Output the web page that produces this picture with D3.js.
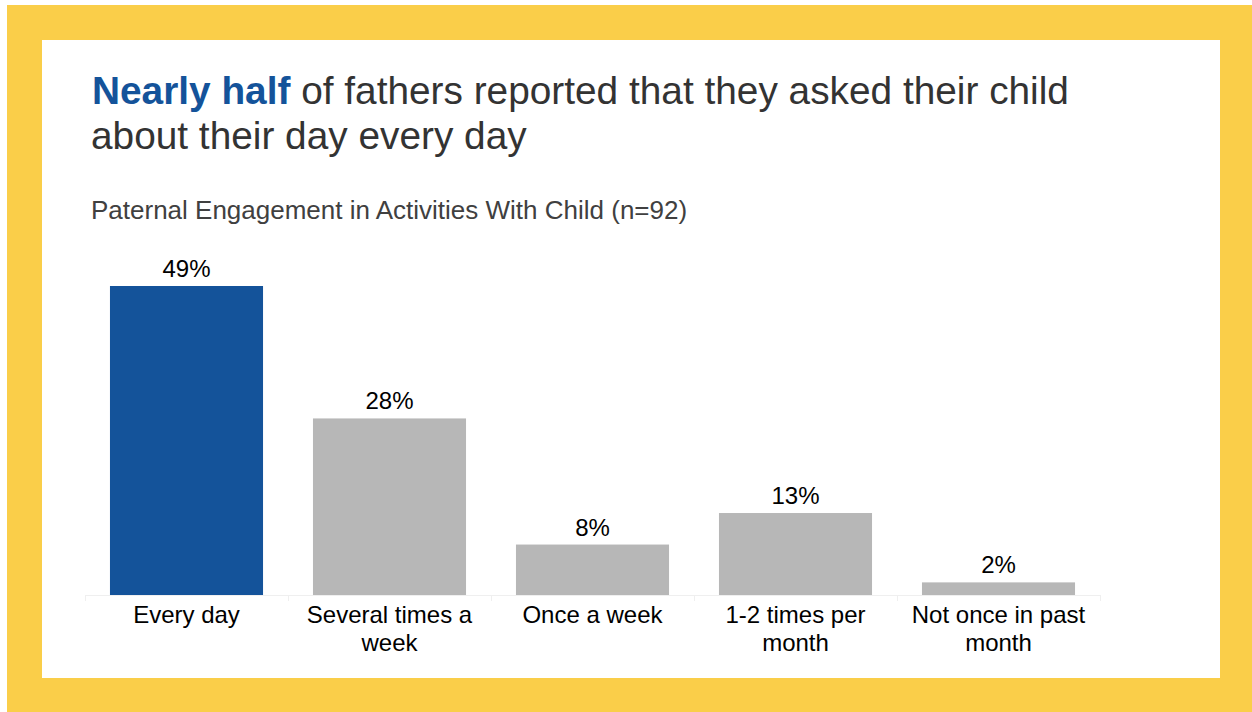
<!DOCTYPE html>
<html>
<head>
<meta charset="utf-8">
<script src="https://cdn.jsdelivr.net/npm/d3@7"></script>
<style>
  html, body { margin: 0; padding: 0; background: #ffffff; }
  svg { display: block; }
  text { font-family: "Liberation Sans", Arial, sans-serif; }
</style>
</head>
<body>
<svg id="chart" width="1252" height="712"></svg>
<script>
// Survey data: how often fathers asked their child about their day
const categories = ["Every day", "Several times a week", "Once a week", "1-2 times per month", "Not once in past month"];
const categoryLines = [["Every day"], ["Several times a", "week"], ["Once a week"], ["1-2 times per", "month"], ["Not once in past", "month"]];
const values = [49, 28, 8, 13, 2];
const valueLabels = ["49%", "28%", "8%", "13%", "2%"];
const highlight = ["Every day"];

const svg = d3.select("#chart");
const W = 1252, H = 712;

// Frame: yellow border around a white panel
svg.append("rect").attr("x", 7).attr("y", 5).attr("width", W - 7).attr("height", H - 5).attr("fill", "#FACE49");
svg.append("rect").attr("x", 42).attr("y", 40).attr("width", 1220 - 42).attr("height", 678 - 40).attr("fill", "#ffffff");

// Headline with highlighted lead-in
const title = svg.append("text").attr("x", 92).attr("y", 104).attr("font-size", 38.8).attr("fill", "#333333");
title.append("tspan").attr("font-weight", "bold").attr("fill", "#14539A").text("Nearly half");
title.append("tspan").text(" of fathers reported that they asked their child");
svg.append("text").attr("x", 91).attr("y", 149).attr("font-size", 38.8).attr("fill", "#333333")
  .text("about their day every day");

svg.append("text").attr("x", 91).attr("y", 219).attr("font-size", 26).attr("fill", "#404040")
  .text("Paternal Engagement in Activities With Child (n=92)");

// Scales
const baseY = 595;
const x = d3.scaleBand().domain(categories).range([85, 1100]).paddingInner(0.246).paddingOuter(0.123);
const y = d3.scaleLinear().domain([0, 49]).range([baseY, 286]);

const g = svg.append("g");

// Faint baseline with ticks at category boundaries
g.append("line").attr("x1", 85).attr("x2", 1100).attr("y1", baseY + 0.5).attr("y2", baseY + 0.5)
  .attr("stroke", "#efefef").attr("stroke-width", 1);
const step = x.step();
const bounds = d3.range(categories.length + 1).map(i => x.range()[0] + i * step);
g.selectAll("line.tick").data(bounds).join("line").attr("class", "tick")
  .attr("x1", d => Math.round(d) + 0.5).attr("x2", d => Math.round(d) + 0.5)
  .attr("y1", baseY).attr("y2", baseY + 6)
  .attr("stroke", "#efefef").attr("stroke-width", 1);

// Bars
g.selectAll("rect.bar").data(categories).join("rect").attr("class", "bar")
  .attr("x", d => x(d))
  .attr("width", x.bandwidth())
  .attr("y", (d, i) => y(values[i]))
  .attr("height", (d, i) => baseY - y(values[i]))
  .attr("fill", d => highlight.includes(d) ? "#14539A" : "#B7B7B7");

// Value labels
g.selectAll("text.val").data(categories).join("text").attr("class", "val")
  .attr("x", d => x(d) + x.bandwidth() / 2)
  .attr("y", (d, i) => y(values[i]) - 9)
  .attr("text-anchor", "middle").attr("font-size", 24).attr("fill", "#000000")
  .text((d, i) => valueLabels[i]);

// Category labels (wrapped)
const cat = g.selectAll("text.cat").data(categories).join("text").attr("class", "cat")
  .attr("x", d => x(d) + x.bandwidth() / 2)
  .attr("y", 623)
  .attr("text-anchor", "middle").attr("font-size", 24).attr("fill", "#000000");
cat.each(function(d, i) {
  const t = d3.select(this);
  categoryLines[i].forEach((line, j) => {
    t.append("tspan").attr("x", x(d) + x.bandwidth() / 2).attr("dy", j === 0 ? 0 : 28).text(line);
  });
});
</script>
</body>
</html>
